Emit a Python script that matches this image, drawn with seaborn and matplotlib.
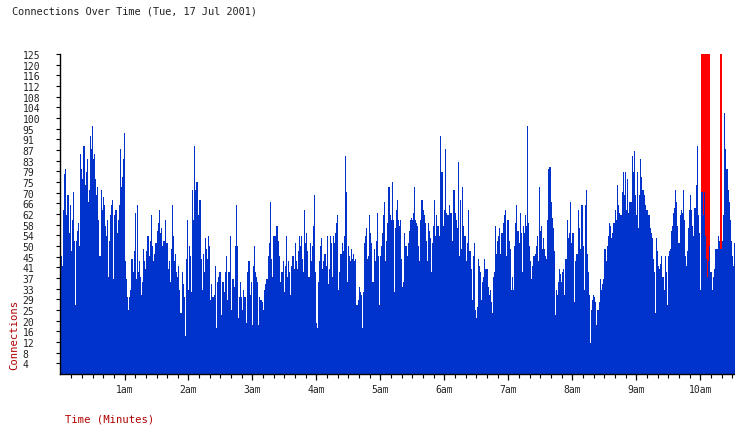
import numpy as np
import matplotlib
matplotlib.use('Agg')
import matplotlib.pyplot as plt
import seaborn as sns

# connections per minute (one list per hour, starting at midnight)
hour_00 = [33, 46, 42, 64, 78, 80, 62, 70, 55, 66,
           48, 60, 71, 52, 27, 52, 56, 59, 50, 86,
           80, 76, 89, 74, 79, 84, 67, 72, 93, 88,
           97, 84, 86, 76, 70, 73, 60, 46, 72, 64,
           69, 66, 58, 54, 60, 38, 52, 62, 66, 68,
           37, 62, 64, 55, 60, 66, 88, 73, 77, 84]
hour_01 = [94, 44, 37, 30, 25, 30, 33, 45, 40, 48,
           63, 37, 66, 40, 44, 38, 31, 36, 49, 44,
           41, 48, 54, 46, 52, 62, 50, 44, 47, 51,
           51, 56, 59, 64, 55, 57, 50, 52, 60, 51,
           51, 41, 44, 36, 49, 66, 54, 44, 47, 40,
           38, 42, 33, 24, 40, 35, 30, 15, 45, 60]
hour_02 = [33, 50, 46, 32, 72, 60, 89, 72, 75, 62,
           68, 68, 45, 33, 47, 40, 53, 49, 45, 54,
           50, 29, 35, 30, 31, 42, 18, 36, 38, 40,
           40, 23, 36, 36, 32, 40, 46, 29, 40, 54,
           25, 37, 37, 34, 50, 66, 50, 22, 30, 36,
           30, 25, 33, 30, 20, 40, 44, 44, 31, 36]
hour_03 = [19, 42, 50, 40, 38, 36, 19, 30, 29, 28,
           25, 33, 35, 37, 37, 46, 51, 67, 45, 38,
           54, 54, 54, 58, 52, 46, 36, 40, 40, 44,
           32, 42, 54, 38, 44, 40, 31, 42, 46, 41,
           51, 44, 41, 48, 54, 50, 54, 45, 40, 64,
           51, 55, 48, 38, 51, 44, 50, 58, 70, 40]
hour_04 = [20, 18, 36, 44, 50, 53, 41, 44, 47, 42,
           54, 35, 41, 54, 51, 38, 54, 51, 55, 59,
           62, 33, 40, 47, 51, 48, 54, 85, 71, 36,
           50, 46, 44, 49, 45, 47, 44, 45, 27, 29,
           34, 32, 31, 18, 32, 51, 54, 57, 45, 46,
           62, 55, 51, 36, 49, 44, 52, 63, 46, 27]
hour_05 = [46, 50, 55, 62, 67, 44, 52, 59, 73, 62,
           60, 75, 60, 32, 57, 64, 68, 60, 58, 60,
           45, 34, 36, 55, 50, 46, 51, 56, 60, 61,
           60, 63, 73, 60, 59, 58, 50, 44, 60, 68,
           64, 62, 59, 52, 44, 59, 56, 53, 40, 51,
           58, 68, 54, 62, 58, 54, 93, 79, 79, 58]
hour_06 = [64, 88, 63, 62, 62, 66, 63, 63, 52, 72,
           63, 60, 57, 83, 46, 68, 49, 73, 58, 54,
           54, 44, 51, 64, 48, 41, 29, 46, 51, 25,
           22, 26, 45, 42, 40, 29, 36, 38, 45, 41,
           41, 34, 31, 33, 28, 24, 38, 40, 58, 47,
           52, 54, 57, 47, 55, 59, 62, 64, 46, 60]
hour_07 = [60, 52, 49, 33, 38, 33, 50, 59, 66, 56,
           51, 63, 55, 40, 58, 55, 62, 58, 97, 59,
           50, 44, 37, 42, 46, 47, 50, 54, 44, 73,
           56, 58, 49, 53, 49, 46, 45, 60, 80, 81,
           67, 61, 57, 48, 23, 33, 31, 36, 41, 39,
           36, 40, 41, 31, 45, 60, 53, 55, 67, 51]
hour_08 = [55, 55, 28, 44, 47, 47, 64, 57, 49, 66,
           50, 33, 66, 72, 47, 40, 31, 12, 25, 29,
           31, 30, 28, 19, 25, 28, 37, 33, 35, 37,
           49, 49, 44, 50, 54, 59, 58, 53, 55, 59,
           64, 60, 74, 66, 63, 62, 62, 71, 79, 70,
           79, 64, 76, 63, 67, 67, 85, 79, 87, 70]
hour_09 = [62, 79, 57, 70, 84, 77, 72, 72, 70, 66,
           64, 62, 62, 57, 55, 53, 45, 40, 24, 53,
           48, 42, 41, 43, 46, 38, 33, 46, 40, 27,
           46, 48, 49, 56, 58, 63, 65, 72, 67, 58,
           51, 62, 64, 63, 72, 60, 46, 42, 48, 57,
           64, 70, 64, 58, 54, 65, 74, 89, 62, 55]
hour_10 = [33, 71, 71, 62, 71, 54, 45, 38, 44, 50,
           40, 33, 38, 41, 49, 49, 49, 54, 52, 49,
           49, 52, 62, 102, 88, 80, 72, 67, 60, 52,
           46, 42, 51, 55]

# minutes where the count went off the top of the scale (drawn in red)
overflow_minutes = [601, 602, 603, 604, 605, 606, 607, 608, 609, 619, 620]

y_max = 125
y_tick_labels = ['4', '8', '12', '16', '20', '25', '29', '33', '37', '41',
                 '45', '50', '54', '58', '62', '66', '70', '75', '79', '83',
                 '87', '91', '95', '100', '104', '108', '112', '116', '120', '125']
hour_labels = ['1am', '2am', '3am', '4am', '5am', '6am', '7am', '8am', '9am', '10am']

connections = (hour_00 + hour_01 + hour_02 + hour_03 + hour_04 + hour_05
               + hour_06 + hour_07 + hour_08 + hour_09 + hour_10)
minutes = np.arange(len(connections))

BLUE = '#0033cc'
RED = '#ff0000'
LABEL_RED = '#b00000'

sns.set_style('ticks')
plt.rcParams['font.family'] = ['DejaVu Sans Mono']

fig = plt.figure(figsize=(7.35, 4.31), dpi=100)
ax = fig.add_axes([60 / 735, 56 / 431, 675 / 735, 320 / 431])

sns.barplot(x=overflow_minutes, y=[y_max] * len(overflow_minutes), native_scale=True,
            width=1, color=RED, saturation=1, linewidth=0, errorbar=None, ax=ax)
sns.barplot(x=minutes, y=connections, native_scale=True,
            width=1, color=BLUE, saturation=1, linewidth=0, errorbar=None, ax=ax)

ax.set_xlim(-0.5, 632.5)
ax.set_ylim(0, y_max)
ax.set_xlabel('')
ax.set_ylabel('')

ax.set_yticks(np.arange(1, 31) * y_max / 30)
ax.set_yticklabels(y_tick_labels, fontsize=7, color='#222222')
ax.tick_params(axis='y', length=3, width=0.8, pad=24, color='black')
for lab in ax.get_yticklabels():
    lab.set_horizontalalignment('left')

ax.set_xticks(np.arange(60, 601, 60))
ax.set_xticklabels(hour_labels, fontsize=7, color='#222222')
ax.set_xticks(np.arange(10, 633, 10), minor=True)
ax.tick_params(axis='x', which='major', length=4.5, width=0.9, pad=3, color='black')
ax.tick_params(axis='x', which='minor', length=3, width=0.8, color='black')

sns.despine(ax=ax)
for side in ['left', 'bottom']:
    ax.spines[side].set_color('black')
    ax.spines[side].set_linewidth(1.0)

fig.text(12 / 735, 1 - 12 / 431, 'Connections Over Time (Tue, 17 Jul 2001)',
         fontsize=7.4, color='#222222', ha='left', va='center')
fig.text(14 / 735, 1 - 335 / 431, 'Connections', rotation=90,
         fontsize=7.6, color=LABEL_RED, ha='center', va='center')
fig.text(65 / 735, 1 - 420 / 431, 'Time (Minutes)',
         fontsize=7.6, color=LABEL_RED, ha='left', va='center')

fig.savefig('out.png', dpi=100)
